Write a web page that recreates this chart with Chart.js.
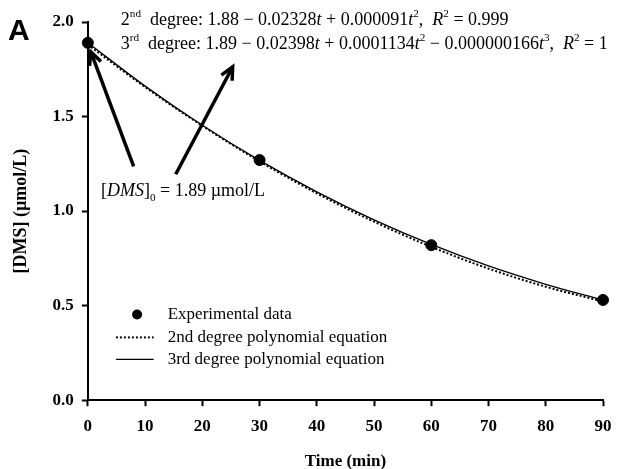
<!DOCTYPE html>
<html>
<head>
<meta charset="utf-8">
<script src="https://cdn.jsdelivr.net/npm/chart.js@4"></script>
<style>
    html, body { margin: 0; padding: 0; background: #fff; }
    #wrap { width: 623px; height: 469px; position: relative; }
</style>
</head>
<body>
<div id="wrap"><canvas id="dmsChart"></canvas></div>
<script>
// values
const expTimes = [0, 30, 60, 90];
const expValues = [1.89, 1.27, 0.82, 0.53];

const fitTimes = [0, 10, 20, 30, 40, 50, 60, 70, 80, 90];
const secondDegree = [1.88, 1.656, 1.451, 1.263, 1.094, 0.944, 0.811, 0.696, 0.600, 0.522];
const thirdDegree = [1.89, 1.661, 1.454, 1.268, 1.102, 0.954, 0.824, 0.710, 0.613, 0.529];

const xTicks = [0, 10, 20, 30, 40, 50, 60, 70, 80, 90];
const yTicks = [0.0, 0.5, 1.0, 1.5, 2.0];

const SERIF = '"Liberation Serif", "Times New Roman", serif';

function toXY(xs, ys) {
    return xs.map((x, i) => ({ x: x, y: ys[i] }));
}

// draws a run of text pieces: n = normal, i = italic, sup, sub
function drawRich(ctx, x, y, parts, size) {
    let cx = x;
    parts.forEach(([txt, style]) => {
        let fs = size, dy = 0, italic = false;
        if (style === 'sup') { fs = size * 0.62; dy = -size * 0.42; }
        if (style === 'sub') { fs = size * 0.62; dy = size * 0.25; }
        if (style === 'i') italic = true;
        ctx.font = (italic ? 'italic ' : '') + fs + 'px ' + SERIF;
        ctx.fillText(txt, cx, y + dy);
        cx += ctx.measureText(txt).width;
    });
}

function drawArrow(ctx, x1, y1, x2, y2) {
    const ang = Math.atan2(y2 - y1, x2 - x1);
    const head = 14;
    ctx.save();
    ctx.strokeStyle = '#000';
    ctx.lineWidth = 3.5;
    ctx.beginPath();
    ctx.moveTo(x1, y1);
    ctx.lineTo(x2 - Math.cos(ang) * 3, y2 - Math.sin(ang) * 3);
    ctx.stroke();
    ctx.lineJoin = 'miter';
    ctx.beginPath();
    ctx.moveTo(x2 - head * Math.cos(ang - 0.45), y2 - head * Math.sin(ang - 0.45));
    ctx.lineTo(x2, y2);
    ctx.lineTo(x2 - head * Math.cos(ang + 0.45), y2 - head * Math.sin(ang + 0.45));
    ctx.stroke();
    ctx.restore();
}

const annotationPlugin = {
    id: 'annotations',
    afterDraw(chart) {
        const ctx = chart.ctx;
        const xs = chart.scales.x, ys = chart.scales.y;
        const px = t => xs.getPixelForValue(t);
        const py = v => ys.getPixelForValue(v);

        ctx.save();
        ctx.fillStyle = '#000';
        ctx.textBaseline = 'alphabetic';

        // panel letter
        ctx.font = 'bold 30px "Liberation Sans", Arial, sans-serif';
        ctx.fillText('A', 8, 40);

        // equations
        drawRich(ctx, px(5.76), py(1.984), [
            ['2', 'n'], ['nd', 'sup'], ['  degree: 1.88 \u2212 0.02328', 'n'], ['t', 'i'],
            [' + 0.000091', 'n'], ['t', 'i'], ['2', 'sup'], [',  ', 'n'], ['R', 'i'], ['2', 'sup'], [' = 0.999', 'n']
        ], 18);
        drawRich(ctx, px(5.76), py(1.858), [
            ['3', 'n'], ['rd', 'sup'], ['  degree: 1.89 \u2212 0.02398', 'n'], ['t', 'i'],
            [' + 0.0001134', 'n'], ['t', 'i'], ['2', 'sup'], [' \u2212 0.000000166', 'n'], ['t', 'i'], ['3', 'sup'],
            [',  ', 'n'], ['R', 'i'], ['2', 'sup'], [' = 1', 'n']
        ], 18);

        // initial concentration label
        drawRich(ctx, px(2.3), py(1.079), [
            ['[', 'n'], ['DMS', 'i'], [']', 'n'], ['0', 'sub'], [' = 1.89 \u00b5mol/L', 'n']
        ], 18);

        drawArrow(ctx, px(8.0), py(1.237), px(0.52), py(1.842));
        drawArrow(ctx, px(15.35), py(1.195), px(25.3), py(1.763));

        // legend
        const lx0 = px(4.9), lx1 = px(11.5), tx = px(13.95);
        ctx.beginPath();
        ctx.arc(px(8.6), py(0.453), 5, 0, Math.PI * 2);
        ctx.fill();
        ctx.strokeStyle = '#000';
        ctx.lineWidth = 2;
        ctx.setLineDash([2, 2]);
        ctx.beginPath();
        ctx.moveTo(lx0, py(0.332));
        ctx.lineTo(lx1, py(0.332));
        ctx.stroke();
        ctx.setLineDash([]);
        ctx.lineWidth = 1.3;
        ctx.beginPath();
        ctx.moveTo(lx0, py(0.216));
        ctx.lineTo(lx1, py(0.216));
        ctx.stroke();
        ctx.font = '17px ' + SERIF;
        ctx.textBaseline = 'middle';
        ctx.fillText('Experimental data', tx, py(0.453));
        ctx.fillText('2nd degree polynomial equation', tx, py(0.332));
        ctx.fillText('3rd degree polynomial equation', tx, py(0.216));
        ctx.restore();
    }
};

new Chart(document.getElementById('dmsChart').getContext('2d'), {
    type: 'scatter',
    data: {
        datasets: [
            {
                label: 'Experimental data',
                data: toXY(expTimes, expValues),
                showLine: false,
                pointRadius: 5.5,
                backgroundColor: '#000',
                borderColor: '#000',
                clip: false
            },
            {
                label: '2nd degree polynomial equation',
                data: toXY(fitTimes, secondDegree),
                showLine: true,
                pointRadius: 0,
                borderColor: '#000',
                borderWidth: 2,
                borderDash: [2, 2],
                cubicInterpolationMode: 'monotone',
                clip: false
            },
            {
                label: '3rd degree polynomial equation',
                data: toXY(fitTimes, thirdDegree),
                showLine: true,
                pointRadius: 0,
                borderColor: '#000',
                borderWidth: 1.3,
                cubicInterpolationMode: 'monotone',
                clip: false
            }
        ]
    },
    options: {
        responsive: true,
        maintainAspectRatio: false,
        animation: false,
        layout: { padding: { top: 22, right: 20, left: 11, bottom: -3 } },
        plugins: {
            legend: { display: false },
            tooltip: { enabled: false }
        },
        scales: {
            x: {
                type: 'linear',
                min: 0,
                max: 90,
                afterBuildTicks: axis => { axis.ticks = xTicks.map(v => ({ value: v })); },
                grid: { display: true, drawOnChartArea: false, drawTicks: true, tickLength: 6, tickColor: '#000', tickWidth: 2 },
                border: { color: '#000', width: 2 },
                ticks: {
                    color: '#000',
                    maxRotation: 0,
                    padding: 10,
                    font: { family: SERIF, size: 17, weight: 'bold' }
                },
                title: {
                    display: true,
                    text: 'Time (min)',
                    color: '#000',
                    padding: { top: 5, bottom: 0 },
                    font: { family: SERIF, size: 17, weight: 'bold' }
                }
            },
            y: {
                min: 0,
                max: 2,
                afterBuildTicks: axis => { axis.ticks = yTicks.map(v => ({ value: v })); },
                grid: { display: true, drawOnChartArea: false, drawTicks: true, tickLength: 6, tickColor: '#000', tickWidth: 2 },
                border: { color: '#000', width: 2 },
                ticks: {
                    color: '#000',
                    padding: 8,
                    callback: v => v.toFixed(1),
                    font: { family: SERIF, size: 17, weight: 'bold' }
                },
                title: {
                    display: true,
                    text: '[DMS] (\u00b5mol/L)',
                    color: '#000',
                    padding: { top: 0, bottom: 12 },
                    font: { family: SERIF, size: 18, weight: 'bold' }
                }
            }
        }
    },
    plugins: [annotationPlugin]
});
</script>
</body>
</html>
